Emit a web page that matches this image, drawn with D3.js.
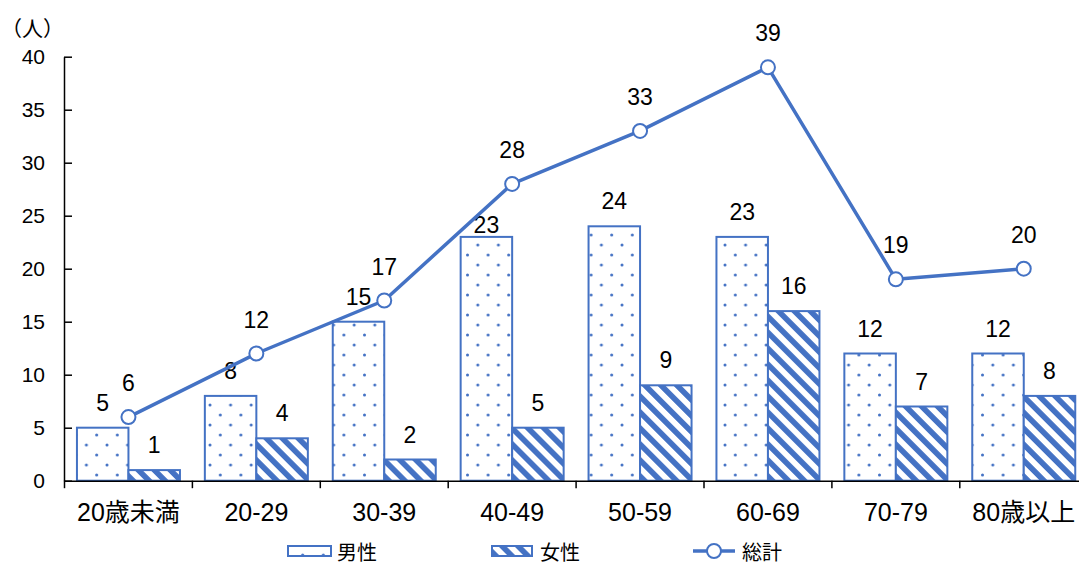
<!DOCTYPE html>
<html>
<head>
<meta charset="utf-8">
<script src="https://cdn.jsdelivr.net/npm/d3@7"></script>
<style>
  html, body { margin: 0; padding: 0; background: #fff; overflow: hidden; }
  svg { display: block; }
</style>
</head>
<body>
<svg id="chart" width="1079" height="565"></svg>
<script>
// ---- data ----
const categories = ["20歳未満", "20-29", "30-39", "40-49", "50-59", "60-69", "70-79", "80歳以上"];
const male   = [5, 8, 15, 23, 24, 23, 12, 12];
const female = [1, 4, 2, 5, 9, 16, 7, 8];
const total  = [6, 12, 17, 28, 33, 39, 19, 20];
const seriesNames = ["男性", "女性", "総計"];
const yTicks = [0, 5, 10, 15, 20, 25, 30, 35, 40];
const unitLabel = "（人）";

// ---- setup ----
const BLUE = "#4472C4";
const NUM_FONT = "'Liberation Sans', 'Noto Sans CJK JP', sans-serif";
const JP_FONT = "'Noto Sans CJK JP', sans-serif";
const svg = d3.select("#chart");

const x0 = 64.5, band = 127.9;
const x = d3.scaleBand().domain(categories).range([x0, x0 + band * categories.length]).padding(0);
const barPad = 12.45;
const xs = d3.scaleBand().domain(["m", "f"]).range([barPad, x.bandwidth() - barPad]).padding(0);
const y = d3.scaleLinear().domain([0, 40]).range([480.7, 56.7]);

// ---- patterns ----
const defs = svg.append("defs");
const dots = defs.append("pattern").attr("id", "dots")
  .attr("patternUnits", "userSpaceOnUse").attr("width", 20.6).attr("height", 20)
  .attr("x", 2).attr("y", 3);
dots.append("rect").attr("width", 20.6).attr("height", 20).attr("fill", "#fff");
dots.append("circle").attr("cx", 2).attr("cy", 2).attr("r", 1.5).attr("fill", BLUE);
dots.append("circle").attr("cx", 12.3).attr("cy", 12).attr("r", 1.5).attr("fill", BLUE);

const stripes = defs.append("pattern").attr("id", "stripes")
  .attr("patternUnits", "userSpaceOnUse").attr("width", 11.3).attr("height", 11.3)
  .attr("patternTransform", "rotate(-45)");
stripes.append("rect").attr("width", 11.3).attr("height", 11.3).attr("fill", "#fff");
stripes.append("rect").attr("x", 0).attr("width", 5.6).attr("height", 11.3).attr("fill", BLUE);

// ---- bars ----
const barData = [];
categories.forEach((c, i) => {
  barData.push({ c, s: "m", v: male[i] });
  barData.push({ c, s: "f", v: female[i] });
});

svg.append("g").selectAll("rect").data(barData).join("rect")
  .attr("x", d => x(d.c) + xs(d.s))
  .attr("y", d => y(d.v))
  .attr("width", xs.bandwidth())
  .attr("height", d => y(0) - y(d.v))
  .attr("fill", d => d.s === "m" ? "url(#dots)" : "url(#stripes)")
  .attr("stroke", BLUE)
  .attr("stroke-width", 2);

// ---- axes ----
const yAxis = d3.axisLeft(y).tickValues(yTicks).tickSizeInner(-8).tickSizeOuter(0).tickPadding(19);
const gy = svg.append("g").attr("transform", `translate(${x0 - 0.5},0)`).call(yAxis);
gy.select(".domain").attr("stroke", "#000").attr("stroke-width", 1.5);
gy.selectAll(".tick line").attr("stroke", "#000").attr("stroke-width", 1.5);
gy.selectAll(".tick text").attr("font-family", NUM_FONT).attr("font-size", 21).attr("fill", "#000");

const xAxis = d3.axisBottom(x).tickSize(0).tickPadding(0);
const gx = svg.append("g").attr("transform", `translate(0,${y(0)})`).call(xAxis);
gx.select(".domain").attr("stroke", "#000").attr("stroke-width", 1.5);
gx.selectAll(".tick text").attr("font-family", NUM_FONT).attr("font-size", 25)
  .attr("fill", "#000").attr("dy", null).attr("y", 31).attr("dominant-baseline", "central");
// category boundary ticks
const bounds = d3.range(categories.length + 1).map(i => x0 + i * band);
gx.append("g").selectAll("line").data(bounds).join("line")
  .attr("x1", d => d).attr("x2", d => d).attr("y1", 0).attr("y2", 7.5)
  .attr("stroke", "#000").attr("stroke-width", 1.5);

// ---- bar labels ----
const labelNudge = { "40-49|m": 13 };
svg.append("g").selectAll("text").data(barData).join("text")
  .attr("x", d => x(d.c) + xs(d.s) + xs.bandwidth() / 2)
  .attr("y", d => y(d.v) - 25 + (labelNudge[d.c + "|" + d.s] || 0))
  .attr("text-anchor", "middle").attr("dominant-baseline", "central")
  .attr("font-family", NUM_FONT).attr("font-size", 23).attr("fill", "#000")
  .text(d => d.v);

// ---- total line ----
const cx = c => x(c) + x.bandwidth() / 2;
const line = d3.line().x((d, i) => cx(categories[i])).y(d => y(d));
svg.append("path").datum(total).attr("d", line)
  .attr("fill", "none").attr("stroke", BLUE).attr("stroke-width", 3.5).attr("stroke-linejoin", "round");
svg.append("g").selectAll("circle").data(total).join("circle")
  .attr("cx", (d, i) => cx(categories[i])).attr("cy", d => y(d)).attr("r", 7)
  .attr("fill", "#fff").attr("stroke", BLUE).attr("stroke-width", 2);
svg.append("g").selectAll("text").data(total).join("text")
  .attr("x", (d, i) => cx(categories[i])).attr("y", d => y(d) - 34)
  .attr("text-anchor", "middle").attr("dominant-baseline", "central")
  .attr("font-family", NUM_FONT).attr("font-size", 23).attr("fill", "#000")
  .text(d => d);

// ---- unit label ----
svg.append("text").attr("x", 32.5).attr("y", 27)
  .attr("text-anchor", "middle").attr("dominant-baseline", "central")
  .attr("font-family", JP_FONT).attr("font-size", 21).attr("fill", "#000")
  .text(unitLabel);

// ---- legend ----
const lg = svg.append("g");
const ly = 551;
const legendX = [288, 492, 693];
// male swatch
lg.append("rect").attr("x", legendX[0]).attr("y", ly - 5).attr("width", 43).attr("height", 10)
  .attr("fill", "url(#dots)").attr("stroke", BLUE).attr("stroke-width", 2);
// female swatch
lg.append("rect").attr("x", legendX[1]).attr("y", ly - 5).attr("width", 40).attr("height", 10)
  .attr("fill", "url(#stripes)").attr("stroke", BLUE).attr("stroke-width", 2);
// line swatch
lg.append("line").attr("x1", legendX[2]).attr("x2", legendX[2] + 42).attr("y1", ly).attr("y2", ly)
  .attr("stroke", BLUE).attr("stroke-width", 3.5);
lg.append("circle").attr("cx", legendX[2] + 21).attr("cy", ly).attr("r", 7)
  .attr("fill", "#fff").attr("stroke", BLUE).attr("stroke-width", 2);
const textX = [337, 540, 742];
lg.selectAll("text.lt").data(seriesNames).join("text").attr("class", "lt")
  .attr("x", (d, i) => textX[i]).attr("y", ly)
  .attr("dominant-baseline", "central")
  .attr("font-family", JP_FONT).attr("font-size", 20).attr("fill", "#000")
  .text(d => d);
</script>
</body>
</html>
